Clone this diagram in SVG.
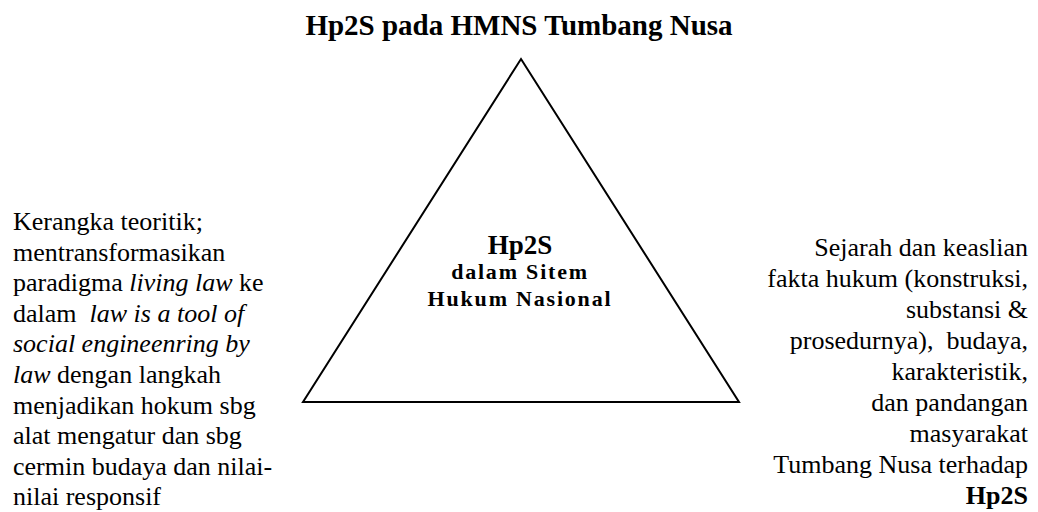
<svg xmlns="http://www.w3.org/2000/svg" width="1038" height="512" viewBox="0 0 1038 512">
  <style>
    .title { font-family: "Liberation Serif", "Times New Roman", serif; font-weight: bold; font-size: 29px; fill: #000; }
    .body { font-family: "Liberation Serif", "Times New Roman", serif; font-size: 26px; fill: #000; }
    .it { font-style: italic; }
    .b { font-weight: bold; }
    .core { font-family: "Liberation Serif", "Times New Roman", serif; font-weight: bold; fill: #000; }
    .edge { fill: none; stroke: #000; stroke-width: 2; stroke-linejoin: miter; }
  </style>
  <rect width="1038" height="512" fill="#fff"/>

  <!-- heading -->
  <g id="title">
    <text class="title" x="519" y="35" text-anchor="middle">Hp2S pada HMNS Tumbang Nusa</text>
  </g>

  <!-- triangle outline -->
  <g id="connectors">
    <polygon class="edge" points="521,59 739,402 303,402"/>
  </g>

  <!-- label inside the triangle -->
  <g id="node-center">
    <text class="core" x="520" y="254" text-anchor="middle" font-size="27">Hp2S</text>
    <text class="core" x="520" y="279" text-anchor="middle" font-size="22" letter-spacing="1.8">dalam Sitem</text>
    <text class="core" x="520" y="306" text-anchor="middle" font-size="22" letter-spacing="1.8">Hukum Nasional</text>
  </g>

  <!-- left block: theoretical frame -->
  <g id="node-left" class="body">
    <text x="13" y="230">Kerangka teoritik;</text>
    <text x="13" y="260.6">mentransformasikan</text>
    <text x="13" y="291.2">paradigma <tspan class="it">living law</tspan> ke</text>
    <text x="13" y="321.8" xml:space="preserve">dalam  <tspan class="it">law is a tool of</tspan></text>
    <text x="13" y="352.4" class="it">social engineenring by</text>
    <text x="13" y="383"><tspan class="it">law</tspan> dengan langkah</text>
    <text x="13" y="413.6">menjadikan hokum sbg</text>
    <text x="13" y="444.2">alat mengatur dan sbg</text>
    <text x="13" y="474.8">cermin budaya dan nilai-</text>
    <text x="13" y="505.4">nilai responsif</text>
  </g>

  <!-- right block: facts and community view -->
  <g id="node-right" class="body" text-anchor="end">
    <text x="1028" y="256">Sejarah dan keaslian</text>
    <text x="1028" y="287">fakta hukum (konstruksi,</text>
    <text x="1028" y="318">substansi &amp;</text>
    <text x="1028" y="349" xml:space="preserve">prosedurnya),  budaya,</text>
    <text x="1028" y="380">karakteristik,</text>
    <text x="1028" y="411">dan pandangan</text>
    <text x="1028" y="442">masyarakat</text>
    <text x="1028" y="473">Tumbang Nusa terhadap</text>
    <text x="1028" y="504" class="b">Hp2S</text>
  </g>
</svg>
